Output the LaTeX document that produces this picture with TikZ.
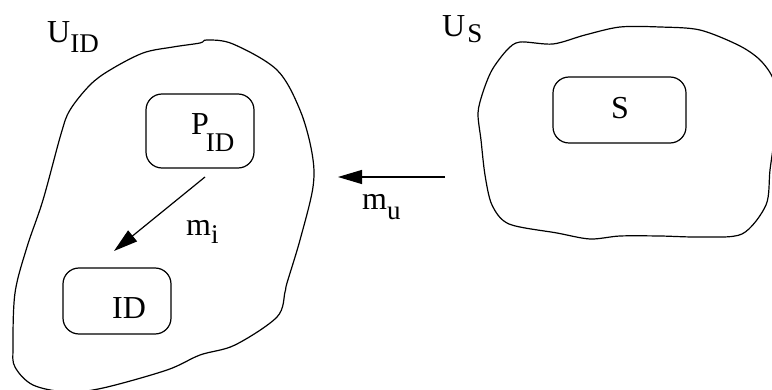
\documentclass[tikz,border=0pt]{standalone}
\usepackage{fontspec}
\setmainfont{Liberation Serif}
\usetikzlibrary{arrows.meta}
\newcommand{\subtx}[2]{\raisebox{-#1pt}{\fontsize{27}{27}\selectfont #2}}
\tikzset{
  blob/.style={line width=1.2pt, line join=round},
  box/.style={draw, line width=1.2pt, rounded corners=16pt, inner sep=0pt},
  lbl/.style={inner sep=0pt, anchor=base west, font=\fontsize{32}{32}\selectfont},
  msg/.style={line width=1.2pt, -{Triangle[length=24pt,width=14pt]}},
}
\begin{document}
\begin{tikzpicture}[x=1pt,y=-1pt]
\useasboundingbox (0,0) rectangle (772,390);
\clip (0,0) rectangle (772,390);
% left region U_ID
\draw[blob] plot[smooth cycle, tension=0.55] coordinates {
 (207,40) (233,44) (277,70) (300,110) (312,153) (313,187) (300,240)
 (287,283) (285,292) (277,317) (235,345) (200,355) (167,370) (103,388) (67,392)
 (33,385) (15,367) (13,347) (15,293) (27,247) (43,200) (61,134)
 (70,110) (90,85) (110,70) (143,53) (173,47) (200,43)};
% right region U_S
\draw[blob] plot[smooth cycle, tension=0.5] coordinates {
 (520,42) (553,44) (585,35) (620,27) (660,27) (700,30) (740,46) (762,62)
 (775,85) (775,130) (770,170) (766,205) (742,234) (700,237) (660,236)
 (620,236) (590,239) (557,233) (509,224) (492,205) (485,175) (481,140)
 (478,113) (483,92) (492,70) (507,50)};
% boxes
\node[box, minimum width=108pt, minimum height=74pt] (pidbox) at (200,131) {};
\node[box, minimum width=108pt, minimum height=66pt] (idbox) at (117,301) {};
\node[box, minimum width=133pt, minimum height=66pt] (sbox) at (619.5,110) {};
% texts
\node[lbl] (uid) at (47,43) {U\subtx{10}{ID}};
\node[lbl] (us) at (442,37) {U\hspace{2pt}\subtx{6}{S}};
\node[lbl] (pid) at (191,135) {P\hspace{-3pt}\subtx{17}{ID}};
\node[lbl] (id) at (112,319) {ID};
\node[lbl] (s) at (611,119) {S};
\node[lbl] (mu) at (362,210) {m\subtx{10}{u}};
\node[lbl] (mi) at (186,236) {m\subtx{8}{i}};
% messages
\coordinate (mis) at (205,177);
\coordinate (mie) at (114,251);
\draw[msg] (mis) -- (mie);
\coordinate (mus) at (445,177);
\coordinate (mue) at (338,177);
\draw[msg] (mus) -- (mue);
\end{tikzpicture}
\end{document}
